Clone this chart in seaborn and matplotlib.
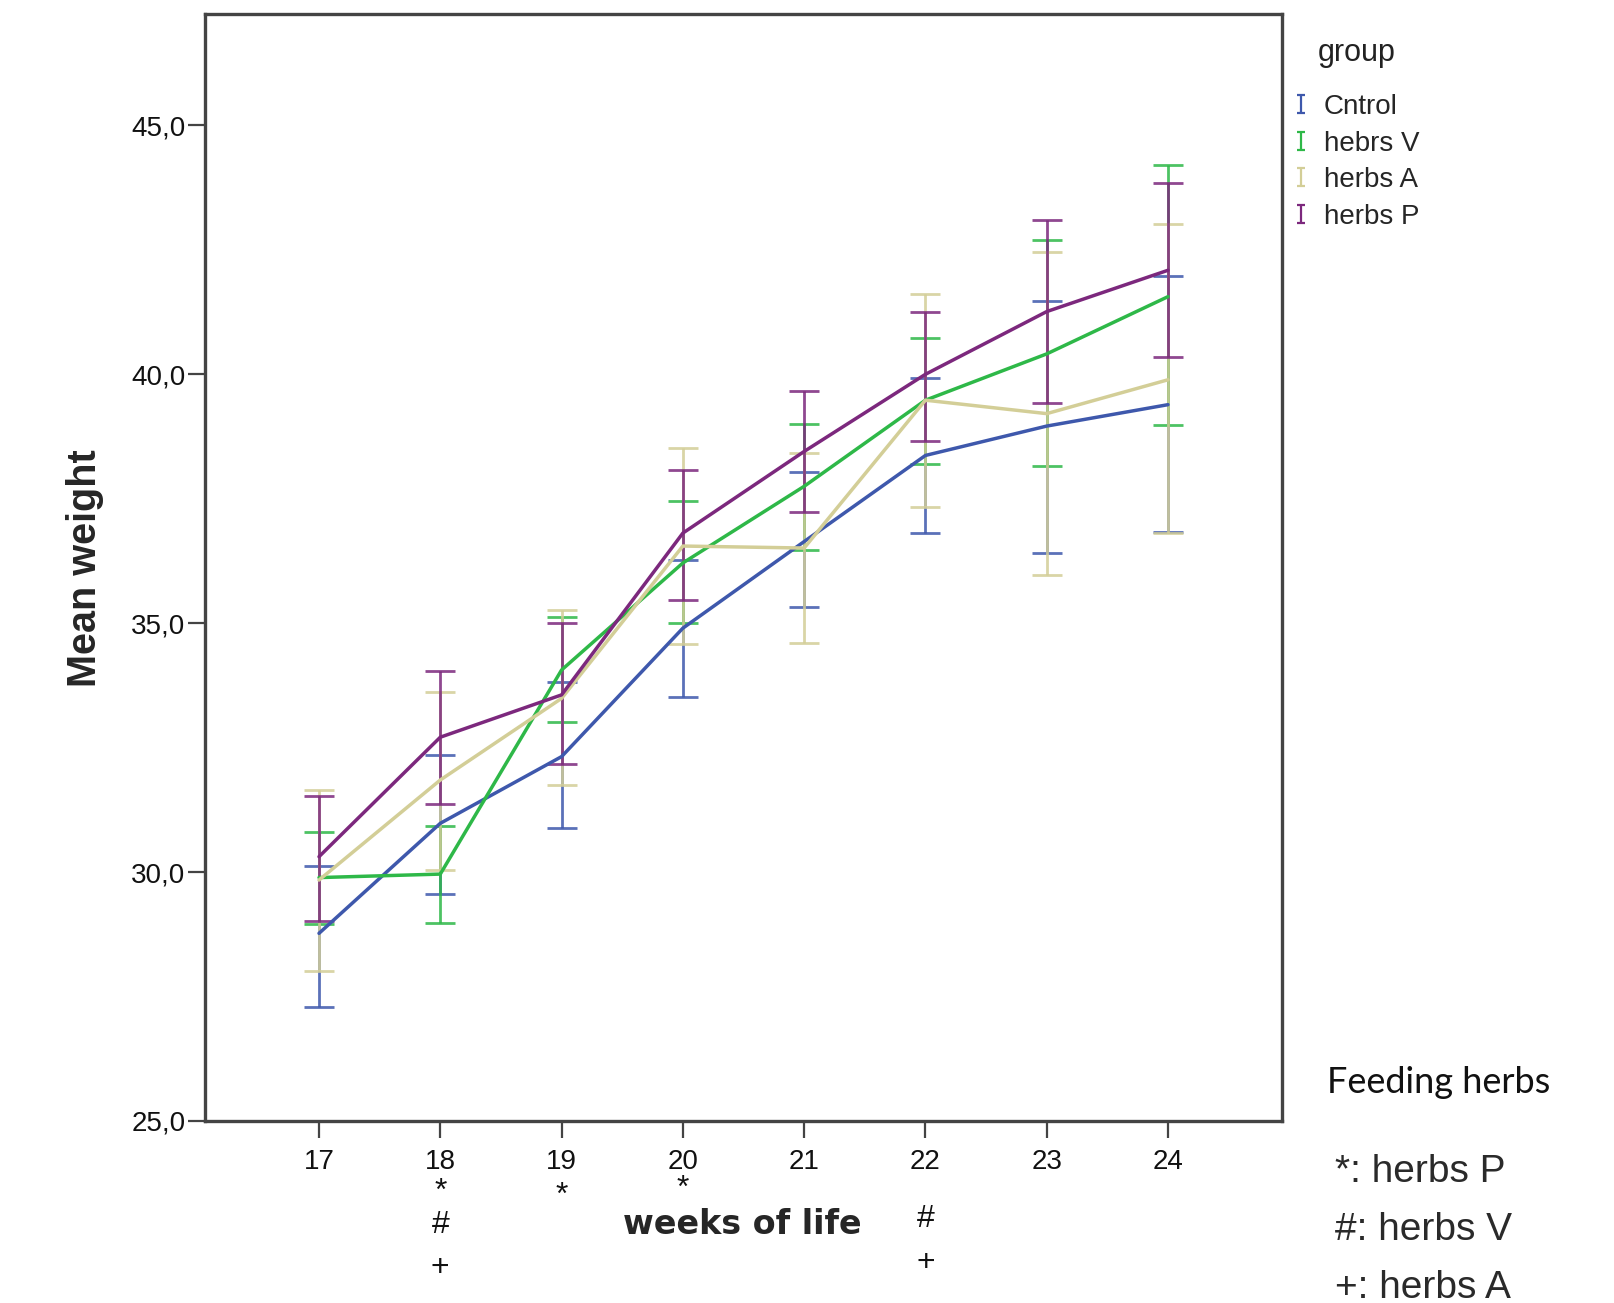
import numpy as np
import pandas as pd
import matplotlib
matplotlib.use("Agg")
import matplotlib.pyplot as plt
import matplotlib.transforms as mtransforms
from matplotlib.path import Path
from matplotlib.lines import Line2D
from matplotlib.ticker import FuncFormatter
import seaborn as sns

# ---------------- data ----------------
weeks = [17, 18, 19, 20, 21, 22, 23, 24]
groups = ["Cntrol", "hebrs V", "herbs A", "herbs P"]
colors = ["#3E58AC", "#2EB848", "#D3CE97", "#7C287D"]

cntrol_mean = [28.77, 30.98, 32.32, 34.90, 36.64, 38.37, 38.96, 39.39]
cntrol_low = [27.30, 29.57, 30.88, 33.51, 35.33, 36.82, 36.42, 36.84]
cntrol_high = [30.13, 32.36, 33.82, 36.26, 38.03, 39.92, 41.48, 41.98]

hebrsv_mean = [29.89, 29.96, 34.06, 36.21, 37.75, 39.48, 40.41, 41.56]
hebrsv_low = [28.96, 28.97, 33.01, 35.00, 36.47, 38.19, 38.16, 38.98]
hebrsv_high = [30.81, 30.93, 35.12, 37.46, 39.01, 40.72, 42.69, 44.21]

herbsa_mean = [29.84, 31.85, 33.49, 36.55, 36.51, 39.48, 39.21, 39.89]
herbsa_low = [28.01, 30.04, 31.75, 34.58, 34.60, 37.33, 35.96, 36.81]
herbsa_high = [31.65, 33.61, 35.26, 38.51, 38.41, 41.62, 42.45, 43.01]

herbsp_mean = [30.31, 32.71, 33.56, 36.81, 38.45, 40.00, 41.26, 42.09]
herbsp_low = [29.02, 31.36, 32.17, 35.46, 37.23, 38.67, 39.43, 40.35]
herbsp_high = [31.53, 34.03, 35.01, 38.08, 39.66, 41.26, 43.09, 43.85]

y_ticks = [25, 30, 35, 40, 45]

# significance markers below the x axis: (week, symbol, pixel row)
sig_weeks = [18, 18, 18, 19, 20, 22, 22]
sig_symbols = ["*", "#", "+", "*", "*", "#", "+"]
sig_rows = [1192, 1225, 1268, 1196, 1189, 1219, 1263]

note_title = "Feeding herbs"
note_lines = ["*: herbs P", "#: herbs V", "+: herbs A"]

# ---------------- build table ----------------
means = [cntrol_mean, hebrsv_mean, herbsa_mean, herbsp_mean]
lows = [cntrol_low, hebrsv_low, herbsa_low, herbsp_low]
highs = [cntrol_high, hebrsv_high, herbsa_high, herbsp_high]
rows = []
for g, m, lo, hi in zip(groups, means, lows, highs):
    for w, a, b, c in zip(weeks, m, lo, hi):
        rows.append({"week": w, "group": g, "mean": a, "low": b, "high": c})
df = pd.DataFrame(rows)

# ---------------- figure ----------------
sns.set_theme(style="white")
plt.rcParams["font.family"] = ["Liberation Sans", "DejaVu Sans"]

W, H = 1615, 1303
fig = plt.figure(figsize=(W / 100, H / 100), dpi=100)
ax_l, ax_r, ax_t, ax_b = 205, 1282, 14.4, 1121
ax = fig.add_axes([ax_l / W, 1 - ax_b / H, (ax_r - ax_l) / W, (ax_b - ax_t) / H])

for g, c in zip(groups, colors):
    sub = df[df["group"] == g]
    ax.errorbar(sub["week"], sub["mean"],
                yerr=[sub["mean"] - sub["low"], sub["high"] - sub["mean"]],
                fmt="none", ecolor=c, elinewidth=2.0, capsize=10.8, capthick=2.0,
                alpha=0.85, zorder=2)

sns.lineplot(data=df, x="week", y="mean", hue="group", hue_order=groups,
             palette=colors, linewidth=2.5, ax=ax, legend=False, zorder=3)

ax.set_xlim(16.06, 24.94)
ax.set_ylim(25, 47.23)
ax.set_xticks(weeks)
ax.set_xticklabels([str(w) for w in weeks])
ax.set_yticks(y_ticks)
ax.yaxis.set_major_formatter(FuncFormatter(lambda v, p: f"{v:.1f}".replace(".", ",")))

for s in ax.spines.values():
    s.set_color("#444444")
    s.set_linewidth(2.4)
ax.tick_params(axis="both", direction="out", length=12, width=1.6, color="#444444",
               left=True, bottom=True)
ax.tick_params(axis="x", labelsize=20, pad=8, labelcolor="#111111")
ax.tick_params(axis="y", labelsize=20, pad=2, labelcolor="#111111")

ax.set_xlabel("weeks of life", fontsize=24, fontweight="bold", family="DejaVu Sans")
ax.xaxis.set_label_coords((742 - ax_l) / (ax_r - ax_l), (ax_b - 1208) / (ax_b - ax_t))
ax.set_ylabel("Mean weight", fontsize=28.5, fontweight="bold")
ax.yaxis.set_label_coords((104 - ax_l) / (ax_r - ax_l), 0.5)

# significance symbols
trans = mtransforms.blended_transform_factory(ax.transData, fig.transFigure)
for w, sym, r in zip(sig_weeks, sig_symbols, sig_rows):
    ax.text(w, 1 - r / H, sym, transform=trans, ha="center", va="center",
            fontsize=23, color="#111111", clip_on=False)

# legend
ipath = Path([(-0.39, 1), (0.39, 1), (0, 1), (0, -1), (-0.39, -1), (0.39, -1)],
             [Path.MOVETO, Path.LINETO, Path.MOVETO, Path.LINETO, Path.MOVETO, Path.LINETO])
handles = [Line2D([], [], color=c, marker=ipath, linestyle="none", markersize=13,
                  markeredgewidth=1.6, markerfacecolor="none") for c in colors]
fig.text(1318 / W, 1 - 53 / H, "group", fontsize=22, va="center", ha="left", color="#222222")
ax.legend(handles, groups, loc="upper left", bbox_to_anchor=(1293 / W, 1 - 94 / H),
          bbox_transform=fig.transFigure, frameon=False, fontsize=20,
          handlelength=0.6, handletextpad=0.5, labelspacing=0.38,
          borderpad=0, borderaxespad=0)

# notes
fig.text(1327 / W, 1 - 1093 / H, note_title, fontsize=26, family=["Lato", "DejaVu Sans"],
         ha="left", va="baseline", color="#111111")
for i, (txt, yb) in enumerate(zip(note_lines, [1182, 1240, 1298])):
    fig.text(1335 / W, 1 - yb / H, txt, fontsize=28, ha="left", va="baseline",
             color="#2a2a2a")

fig.savefig("out.png", dpi=100)
